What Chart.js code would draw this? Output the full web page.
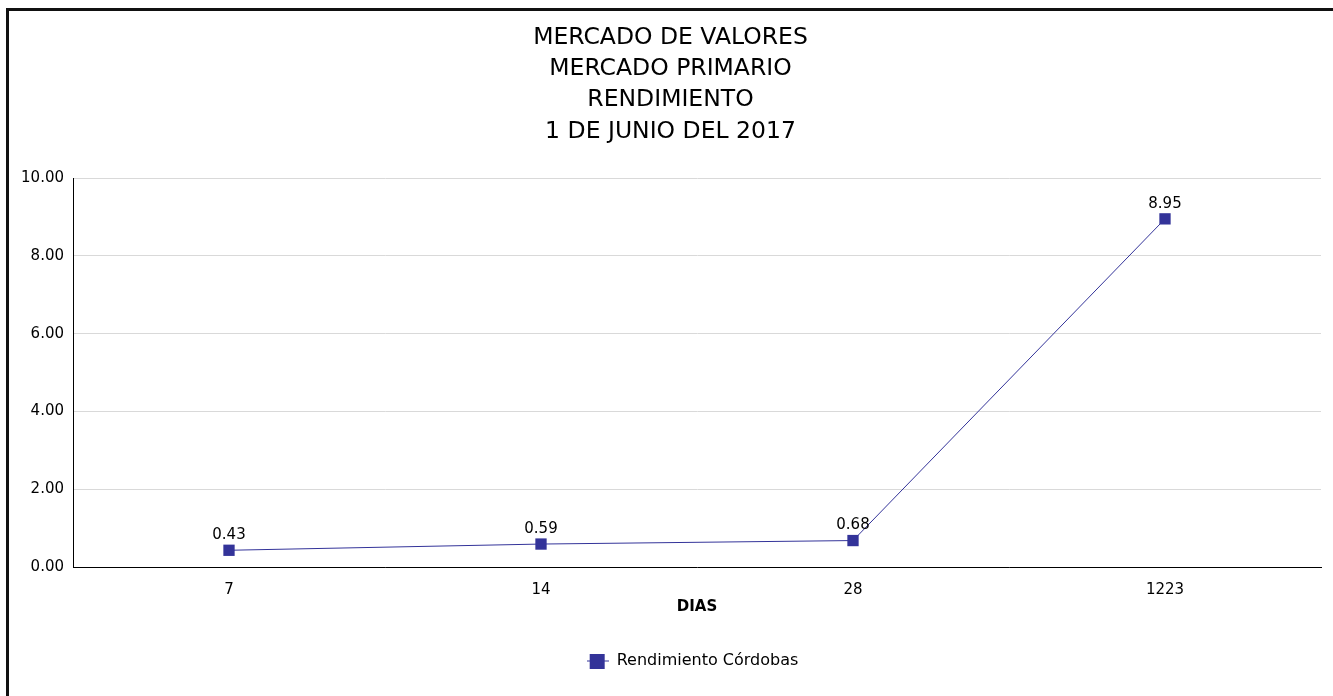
<!DOCTYPE html>
<html lang="es">
<head>
    <meta charset="UTF-8">
    <title>Mercado de Valores - Rendimiento</title>
    <style>
        body, html {
            margin: 0;
            padding: 0;
            width: 1333px;
            height: 696px;
            overflow: hidden;
            background: #ffffff;
            font-family: "DejaVu Sans", sans-serif;
        }

        .frame {
            position: absolute;
            left: 6px;
            top: 8px;
            width: 1400px;
            height: 800px;
            border-left: 3px solid #111;
            border-top: 3px solid #111;
            pointer-events: none;
        }

        .chart-box {
            position: absolute;
            left: 0;
            top: 0;
            width: 1333px;
            height: 696px;
        }

        .chart-box canvas {
            display: block;
        }
    </style>
</head>
<body>
    <div class="chart-box">
        <canvas id="rendimiento-chart" width="1333" height="696"></canvas>
    </div>
    <div class="frame"></div>

    <script src="https://cdn.jsdelivr.net/npm/chart.js"></script>
    <script>
        // chart data
        const titleLines = ['MERCADO DE VALORES', 'MERCADO PRIMARIO', 'RENDIMIENTO', '1 DE JUNIO DEL 2017'];
        const dias = ['7', '14', '28', '1223'];
        const rendimientoCordobas = [0.43, 0.59, 0.68, 8.95];
        const seriesName = 'Rendimiento Córdobas';
        const axisTitleX = 'DIAS';

        const navy = '#333399';
        const fontFamily = '"DejaVu Sans", sans-serif';

        // legend marker: short line with a square on it
        const legendIcon = document.createElement('canvas');
        legendIcon.width = 22;
        legendIcon.height = 15;
        (function () {
            const c = legendIcon.getContext('2d');
            c.fillStyle = navy;
            c.fillRect(0, 7, 22, 1);
            c.fillRect(3, 0, 15, 15);
        })();

        // value labels above each point
        const pointLabels = {
            id: 'pointLabels',
            afterDatasetsDraw(chart) {
                const ctx = chart.ctx;
                ctx.save();
                ctx.font = '15px ' + fontFamily;
                ctx.fillStyle = '#000';
                ctx.textAlign = 'center';
                ctx.textBaseline = 'middle';
                chart.data.datasets.forEach((ds, i) => {
                    chart.getDatasetMeta(i).data.forEach((pt, j) => {
                        ctx.fillText(ds.data[j].toFixed(2), pt.x, pt.y - 15);
                    });
                });
                ctx.restore();
            }
        };

        // the legend sits a bit right of centre in the original
        const legendNudge = {
            id: 'legendNudge',
            afterLayout(chart) {
                chart.legend.left += 44;
            }
        };

        const ctx = document.getElementById('rendimiento-chart').getContext('2d');
        new Chart(ctx, {
            type: 'line',
            data: {
                labels: dias,
                datasets: [{
                    label: seriesName,
                    data: rendimientoCordobas,
                    borderColor: navy,
                    borderWidth: 1,
                    backgroundColor: navy,
                    pointStyle: 'rect',
                    pointRadius: 8,
                    pointBackgroundColor: navy,
                    pointBorderColor: navy,
                    pointBorderWidth: 0,
                    tension: 0
                }]
            },
            options: {
                responsive: false,
                animation: false,
                layout: {
                    padding: { left: 8, right: 0, top: 0, bottom: 17 }
                },
                plugins: {
                    title: {
                        display: true,
                        text: titleLines,
                        color: '#000',
                        font: { family: fontFamily, size: 23.5, weight: 'normal', lineHeight: 1.33 },
                        padding: { top: 22, bottom: 31 }
                    },
                    legend: {
                        display: true,
                        position: 'bottom',
                        labels: {
                            color: '#000',
                            font: { family: fontFamily, size: 16 },
                            usePointStyle: true,
                            pointStyleWidth: 22,
                            padding: 10,
                            generateLabels(chart) {
                                const items = Chart.defaults.plugins.legend.labels.generateLabels(chart);
                                items.forEach(it => { it.pointStyle = legendIcon; });
                                return items;
                            }
                        }
                    },
                    tooltip: { enabled: false }
                },
                scales: {
                    x: {
                        offset: true,
                        grid: { display: false, drawTicks: false },
                        border: { display: true, color: '#000', width: 1 },
                        ticks: {
                            color: '#000',
                            font: { family: fontFamily, size: 15 },
                            padding: 14
                        },
                        title: {
                            display: true,
                            text: axisTitleX,
                            color: '#000',
                            font: { family: fontFamily, size: 15, weight: 'bold' },
                            padding: { top: 0, bottom: 27 }
                        },
                        afterFit(scale) { scale.height = 76; }
                    },
                    y: {
                        min: 0,
                        max: 10,
                        ticks: {
                            stepSize: 2,
                            color: '#000',
                            font: { family: fontFamily, size: 15 },
                            padding: 9,
                            callback: v => v.toFixed(2)
                        },
                        grid: { color: '#d9d9d9', drawTicks: false },
                        border: { display: true, color: '#000', width: 1 },
                        afterFit(scale) { scale.width = 65; }
                    },
                    // empty right-hand strip so the plot ends short of the edge
                    yRight: {
                        position: 'right',
                        min: 0,
                        max: 10,
                        grid: { display: false, drawTicks: false },
                        border: { display: false },
                        ticks: { display: false },
                        afterFit(scale) { scale.width = 12; }
                    }
                }
            },
            plugins: [pointLabels, legendNudge]
        });
    </script>
</body>
</html>
